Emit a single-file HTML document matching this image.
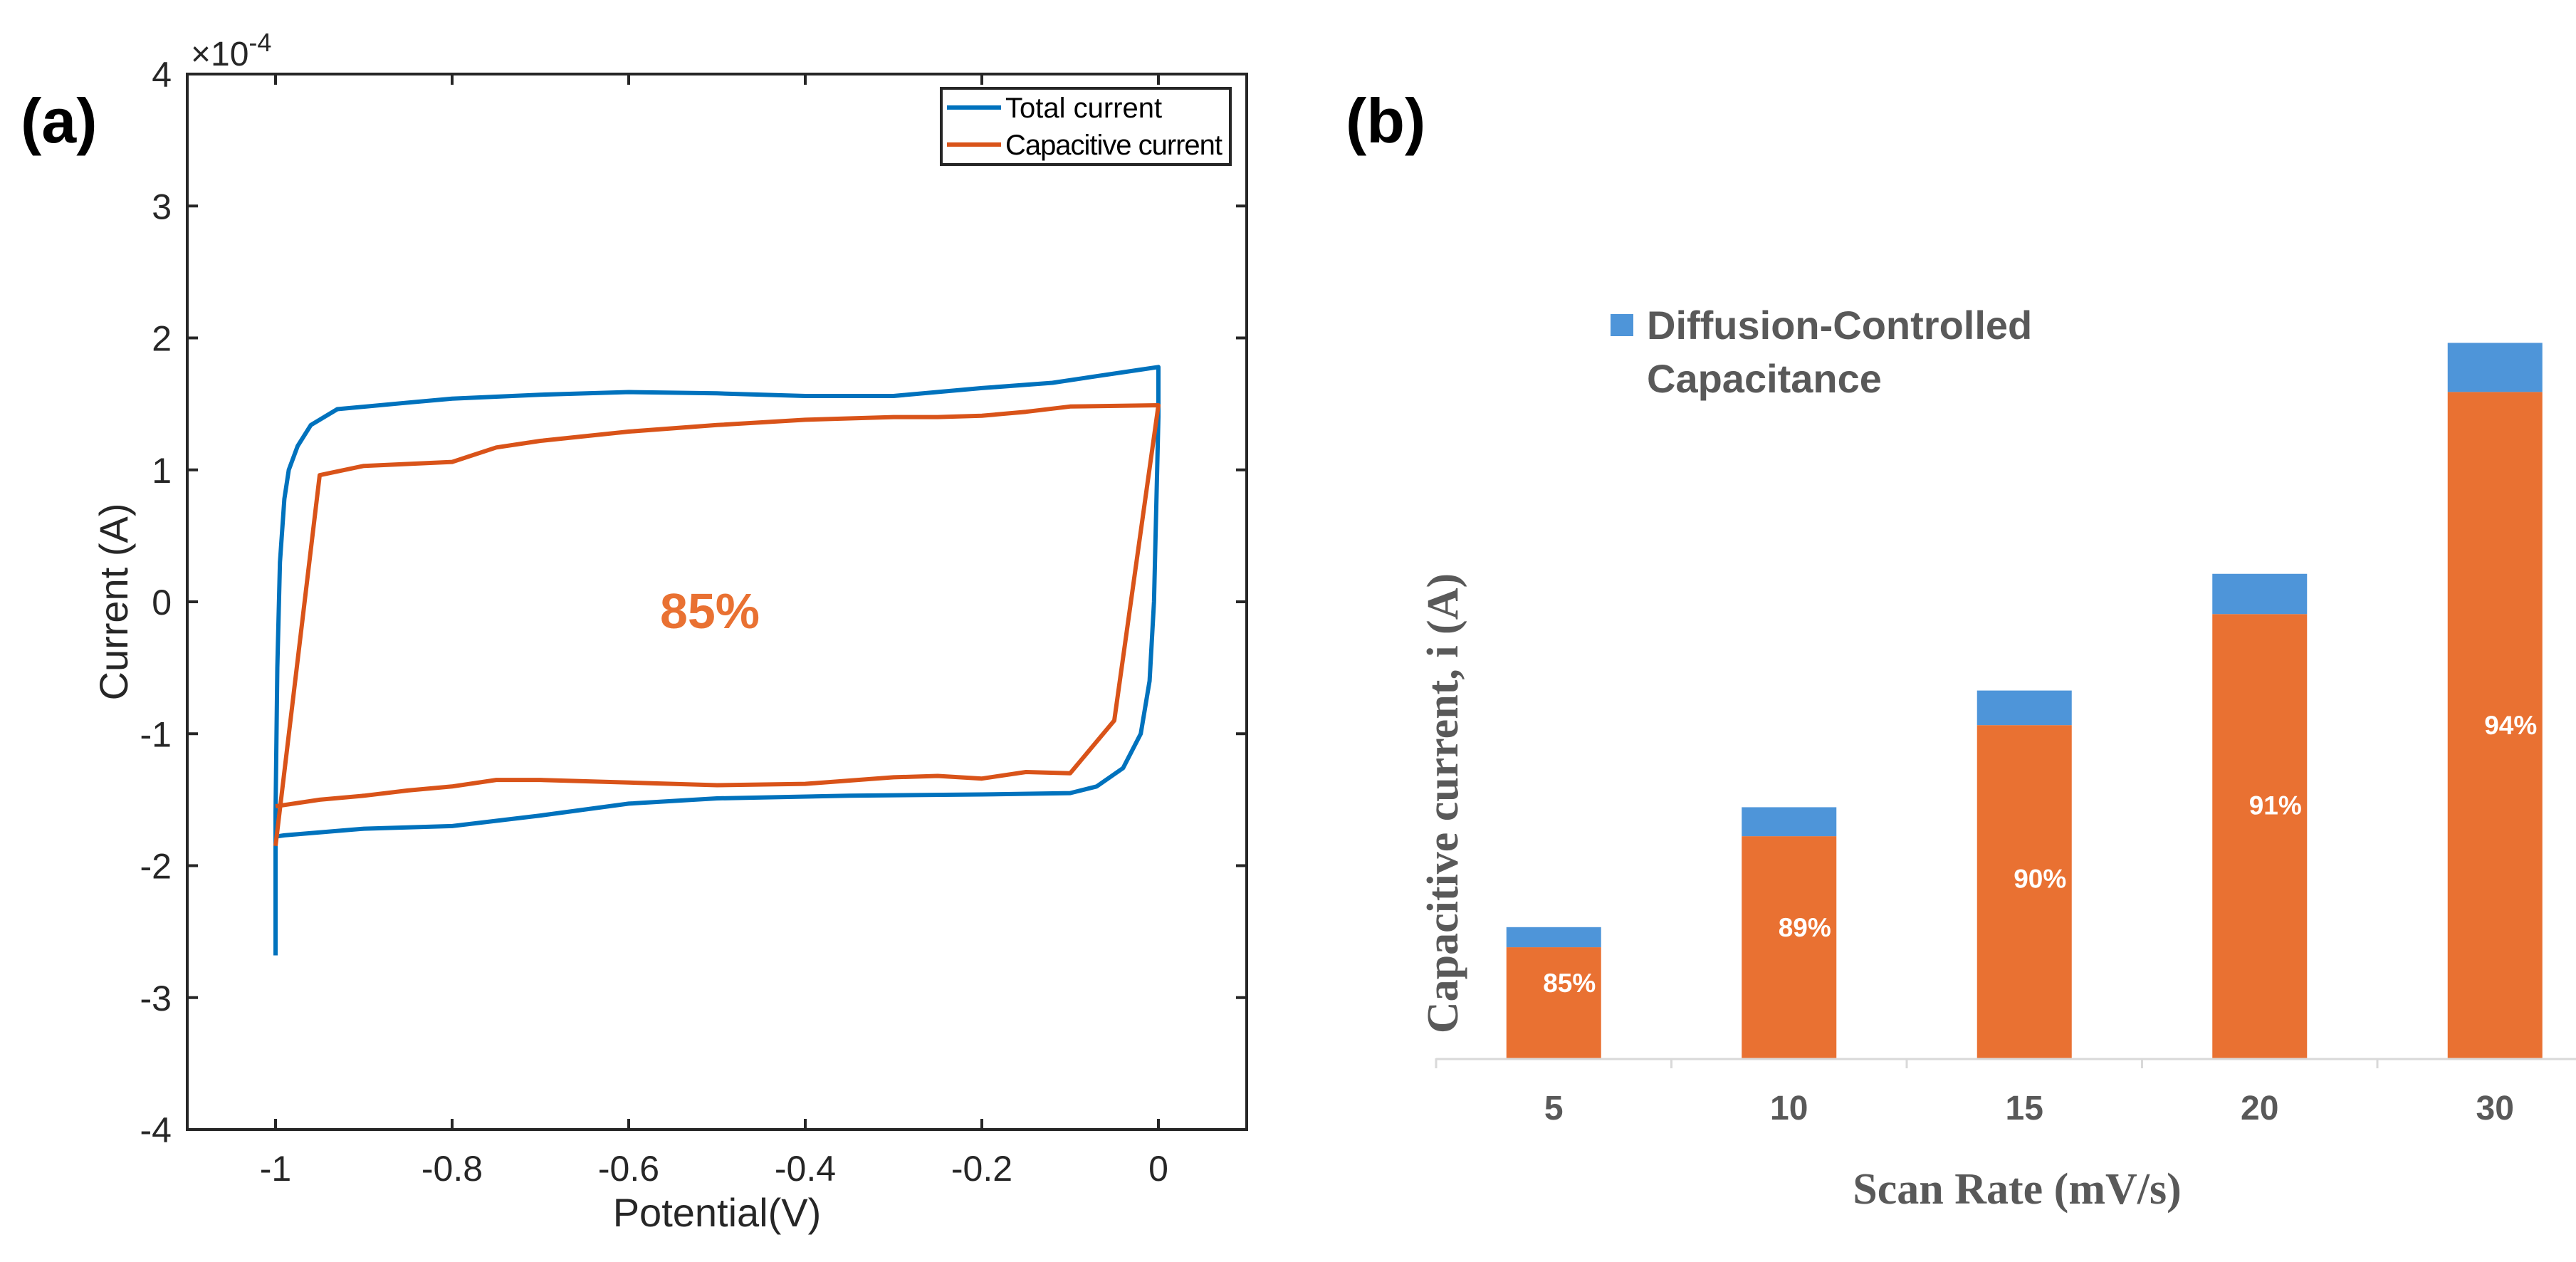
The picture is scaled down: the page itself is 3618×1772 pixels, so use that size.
<!DOCTYPE html>
<html><head><meta charset="utf-8"><style>
html,body{margin:0;padding:0;background:#fff;}
svg{display:block;font-family:"Liberation Sans",Arial,sans-serif;}
</style></head><body>
<svg id="fig" width="3618" height="1772" viewBox="0 0 3618 1772" xmlns="http://www.w3.org/2000/svg">
<rect width="3618" height="1772" fill="#fff"/>
<g id="pa"></g>
<g id="pb"></g>
</svg>
<script>
// ---------- Panel (a) data ----------
const totalX = [-1,-1,-0.998,-0.995,-0.99,-0.985,-0.975,-0.96,-0.93,-0.85,-0.8,-0.7,-0.6,-0.5,-0.4,-0.3,-0.2,-0.12,-0.07,-0.02,0,0,-0.005,-0.01,-0.02,-0.04,-0.07,-0.1,-0.2,-0.35,-0.5,-0.6,-0.7,-0.8,-0.9,-0.99,-1];
const totalY = [-2.68,-1.6,-0.5,0.3,0.78,1.0,1.18,1.34,1.46,1.51,1.54,1.57,1.59,1.58,1.56,1.56,1.62,1.66,1.71,1.76,1.78,1.4,0,-0.6,-1.0,-1.26,-1.40,-1.45,-1.46,-1.47,-1.49,-1.53,-1.62,-1.70,-1.72,-1.77,-1.78];
const capX = [-1,-0.95,-0.9,-0.8,-0.75,-0.7,-0.6,-0.5,-0.4,-0.3,-0.25,-0.2,-0.15,-0.1,0,0,-0.05,-0.1,-0.15,-0.2,-0.25,-0.3,-0.4,-0.5,-0.6,-0.7,-0.75,-0.8,-0.85,-0.9,-0.95,-0.99,-1];
const capY = [-1.85,0.96,1.03,1.06,1.17,1.22,1.29,1.34,1.38,1.40,1.40,1.41,1.44,1.48,1.49,1.49,-0.9,-1.30,-1.29,-1.34,-1.32,-1.33,-1.38,-1.39,-1.37,-1.35,-1.35,-1.40,-1.43,-1.47,-1.50,-1.54,-1.55];
const aXTicks = [-1,-0.8,-0.6,-0.4,-0.2,0];
const aXTickLabels = ["-1","-0.8","-0.6","-0.4","-0.2","0"];
const aYTicks = [-4,-3,-2,-1,0,1,2,3,4];
const aYTickLabels = ["-4","-3","-2","-1","0","1","2","3","4"];

// ---------- Panel (b) data ----------
const categories = ["5","10","15","20","30"];
const capacitive = [1.38,2.76,4.14,5.52,8.28];
const diffusion = [0.25,0.36,0.43,0.50,0.61];
const pctLabels = ["85%","89%","90%","91%","94%"];
const labelFrac = [0.68,0.59,0.54,0.57,0.50];

const NS="http://www.w3.org/2000/svg";
function mk(parent,tag,attrs,text){const e=document.createElementNS(NS,tag);for(const k in attrs)e.setAttribute(k,attrs[k]);if(text!==undefined)e.textContent=text;parent.appendChild(e);return e;}

// Panel a axes
const pa=document.getElementById('pa');
const L=263,R=1751,T=104,B=1586;
const ax=v=>L+(v+1.1)/1.2*(R-L);
const ay=v=>B-(v+4)/8*(B-T);
let t;
t=mk(pa,'text',{x:29,y:200,'font-size':88,'font-weight':'bold',fill:'#000'},'(a)');


let r=mk(pa,'rect',{x:L,y:T,width:R-L,height:B-T,fill:'none',stroke:'#262626','stroke-width':4});


aXTicks.forEach((v,i)=>{
 const x=ax(v);
 mk(pa,'line',{x1:x,y1:B,x2:x,y2:B-15,stroke:'#262626','stroke-width':4});
 mk(pa,'line',{x1:x,y1:T,x2:x,y2:T+15,stroke:'#262626','stroke-width':4});
 const l=mk(pa,'text',{x:x,y:1658,'font-size':50,'text-anchor':'middle',fill:'#262626'},aXTickLabels[i]);
 
 
});
aYTicks.forEach((v,i)=>{
 const y=ay(v);
 mk(pa,'line',{x1:L,y1:y,x2:L+15,y2:y,stroke:'#262626','stroke-width':4});
 mk(pa,'line',{x1:R,y1:y,x2:R-15,y2:y,stroke:'#262626','stroke-width':4});
 const l=mk(pa,'text',{x:L-22,y:y+18,'font-size':50,'text-anchor':'end',fill:'#262626'},aYTickLabels[i]);
 
 
});
t=mk(pa,'text',{x:268,y:92,'font-size':48,fill:'#262626'});


t.innerHTML='×10<tspan dy="-20" font-size="36">-4</tspan>';
t=mk(pa,'text',{x:1007,y:1722,'font-size':56,'text-anchor':'middle',fill:'#262626'},'Potential(V)');


t=mk(pa,'text',{x:0,y:0,'font-size':56,'text-anchor':'middle',fill:'#262626',transform:'translate(179,845) rotate(-90)'},'Current (A)');


function linePath(xs,ys){return xs.map((x,i)=>(i?'L':'M')+ax(x).toFixed(1)+' '+ay(ys[i]).toFixed(1)).join(' ');}
let p=mk(pa,'path',{d:linePath(totalX,totalY),fill:'none',stroke:'#0072BD','stroke-width':6,'stroke-linejoin':'round'});


p=mk(pa,'path',{d:linePath(capX,capY),fill:'none',stroke:'#D95319','stroke-width':6,'stroke-linejoin':'round'});


t=mk(pa,'text',{x:997,y:882,'font-size':70,'font-weight':'bold','text-anchor':'middle',fill:'#E97132'},'85%');


const lg=mk(pa,'g',{});


mk(lg,'rect',{x:1322,y:124,width:406,height:107,fill:'#fff',stroke:'#262626','stroke-width':4});
let le=mk(lg,'g',{});


mk(le,'line',{x1:1330,y1:151,x2:1406,y2:151,stroke:'#0072BD','stroke-width':6});
mk(le,'text',{x:1412,y:165,'font-size':40,fill:'#000'},'Total current');
le=mk(lg,'g',{});


mk(le,'line',{x1:1330,y1:203,x2:1406,y2:203,stroke:'#D95319','stroke-width':6});
mk(le,'text',{x:1412,y:217,'font-size':40,fill:'#000',textLength:305},'Capacitive current');

// Panel b
const pb=document.getElementById('pb');
const base=1486, x0=2017, cw=330.5, bw=133, unit=113;
const by=v=>base-v*unit;
t=mk(pb,'text',{x:1890,y:200,'font-size':88,'font-weight':'bold',fill:'#000'},'(b)');


categories.forEach((c,i)=>{
 const cx=x0+cw*(i+0.5);
 let b=mk(pb,'rect',{x:cx-bw/2,y:by(capacitive[i]),width:bw,height:capacitive[i]*unit,fill:'#E97132'});
 
 
 b=mk(pb,'rect',{x:cx-bw/2,y:by(capacitive[i]+diffusion[i]),width:bw,height:diffusion[i]*unit,fill:'#4E95D9'});
 
 
 const lbl=mk(pb,'text',{x:cx+22,y:by(capacitive[i]*labelFrac[i])+13,'font-size':37,'font-weight':'bold','text-anchor':'middle',fill:'#fff'},pctLabels[i]);
 
 
 const tl=mk(pb,'text',{x:cx,y:1572,'font-size':48,'font-weight':'bold','text-anchor':'middle',fill:'#595959'},c);
 
 
});
let axl=mk(pb,'line',{x1:x0,y1:base+1,x2:3618,y2:base+1,stroke:'#d9d9d9','stroke-width':3});


for(let i=0;i<5;i++){mk(pb,'line',{x1:x0+cw*i,y1:base,x2:x0+cw*i,y2:base+14,stroke:'#d9d9d9','stroke-width':3});}
t=mk(pb,'text',{x:2833,y:1690,'font-size':62,'font-weight':'bold','text-anchor':'middle',fill:'#595959','font-family':'"Liberation Serif",serif'},'Scan Rate (mV/s)');


t=mk(pb,'text',{x:0,y:0,'font-size':62,'font-weight':'bold','text-anchor':'middle',fill:'#595959','font-family':'"Liberation Serif",serif',transform:'translate(2047,1128) rotate(-90)'},'Capacitive current, i (A)');


const lb=mk(pb,'g',{});


mk(lb,'rect',{x:2262,y:441,width:32,height:31,fill:'#4E95D9'});
mk(lb,'text',{x:2313,y:476,'font-size':56,'font-weight':'bold',fill:'#595959'},'Diffusion-Controlled');
mk(lb,'text',{x:2313,y:551,'font-size':56,'font-weight':'bold',fill:'#595959'},'Capacitance');
</script>
</body></html>
